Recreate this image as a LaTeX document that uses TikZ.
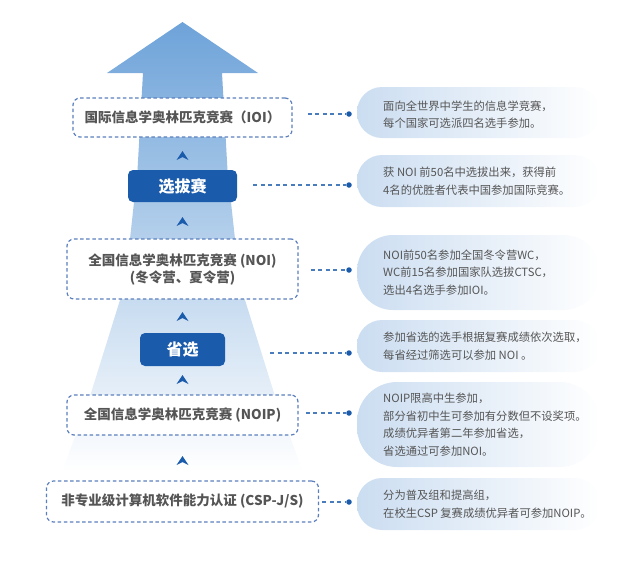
\documentclass[tikz,border=0pt]{standalone}
\usepackage{fontspec}
\newfontfamily\cjk{Noto Sans CJK SC}
\usetikzlibrary{positioning}

\definecolor{deepblue}{HTML}{1B5BAB}
\definecolor{dashblue}{HTML}{5B7FBD}
\definecolor{arrowblue}{HTML}{6EA3D9}
\definecolor{midblue}{HTML}{ADCAEA}
\definecolor{pillblue}{HTML}{CBDDF1}
\definecolor{pillmid}{HTML}{E1EBF7}
\definecolor{txtgray}{HTML}{555555}

\tikzstyle{stage} = [draw=dashblue, line width=1.2pt, dash pattern=on 3.5pt off 2.6pt, rounded corners=7pt, fill=white, text=txtgray, font=\cjk\bfseries\fontsize{13.5}{17}\selectfont, align=center, inner sep=0pt]
\tikzstyle{select} = [fill=deepblue, rounded corners=5pt, text=white, font=\cjk\bfseries\fontsize{16}{18}\selectfont, inner sep=0pt]
\tikzstyle{note} = [anchor=west, text=txtgray, font=\cjk\fontsize{11.3}{17.5}\selectfont, align=left, inner sep=0pt]
\tikzstyle{pill} = [left color=pillblue, middle color=pillmid, right color=white]
\tikzstyle{dot} = [circle, fill=deepblue, inner sep=0pt, minimum size=5.5pt]
\tikzstyle{conn} = [deepblue!80, line width=1.2pt, dash pattern=on 4pt off 3.5pt]

\begin{document}
\begin{tikzpicture}[x=1pt, y=-1pt]
	\useasboundingbox (0,0) rectangle (636,571);

	% big arrow behind the stages
	\shade[top color=arrowblue, middle color=midblue, bottom color=white]
		(182.5,22) -- (258,73) -- (222,73) -- (227.5,170) -- (235,239) -- (245,300)
		-- (274,393) -- (303,472) -- (62,472) -- (91,393) -- (120,300) -- (130,239)
		-- (137.5,170) -- (143,73) -- (107,73) -- cycle;

	% small up chevrons
	\foreach \y in {156,222,317,380,461}
		\fill[deepblue] (176.5,\y+4) -- (182.5,\y-5) -- (188.5,\y+4) -- (182.5,\y+1) -- cycle;

	% stages
	\node[stage, minimum width=219pt, minimum height=39pt] (ioi) at (182.5,117.5) {国际信息学奥林匹克竞赛（IOI）};
	\node[select, minimum width=109pt, minimum height=32pt] (xbs) at (182.5,186) {选拔赛};
	\node[stage, minimum width=231pt, minimum height=60pt] (noi) at (182.5,269) {全国信息学奥林匹克竞赛 (NOI)\\(冬令营、夏令营)};
	\node[select, minimum width=85pt, minimum height=33pt] (sx) at (182.5,349.5) {省选};
	\node[stage, minimum width=231pt, minimum height=40pt] (noip) at (182.5,415) {全国信息学奥林匹克竞赛 (NOIP)};
	\node[stage, minimum width=272pt, minimum height=41pt] (csp) at (182.5,501.5) {非专业级计算机软件能力认证 (CSP-J/S)};

	% pills
	\shade[pill, rounded corners=25pt] (357,87) rectangle (600,138);
	\shade[pill, rounded corners=25pt] (357,155) rectangle (600,207);
	\shade[pill, rounded corners=36pt] (357,235) rectangle (600,310);
	\shade[pill, rounded corners=25pt] (357,320) rectangle (600,372);
	\shade[pill, rounded corners=40pt] (357,382) rectangle (600,467);
	\shade[pill, rounded corners=25pt] (357,478) rectangle (600,530);

	\node[note] (t1) at (383,114.5) {面向全世界中学生的信息学竞赛，\\每个国家可选派四名选手参加。};
	\node[note] (t2) at (383,181) {获 NOI 前50名中选拔出来，获得前\\4名的优胜者代表中国参加国际竞赛。};
	\node[note] (t3) at (383,272.5) {NOI前50名参加全国冬令营WC，\\WC前15名参加国家队选拔CTSC，\\选出4名选手参加IOI。};
	\node[note] (t4) at (383,346) {参加省选的选手根据复赛成绩依次选取，\\每省经过筛选可以参加 NOI 。};
	\node[note] (t5) at (383,424.5) {NOIP限高中生参加，\\部分省初中生可参加有分数但不设奖项。\\成绩优异者第二年参加省选，\\省选通过可参加NOI。};
	\node[note] (t6) at (383,504) {分为普及组和提高组，\\在校生CSP 复赛成绩优异者可参加NOIP。};

	% dots and connectors
	\node[dot] (d1) at (349,114) {};
	\node[dot] (d2) at (349,185) {};
	\node[dot] (d3) at (349,270) {};
	\node[dot] (d4) at (349,353) {};
	\node[dot] (d5) at (349,413) {};
	\node[dot] (d6) at (349,502) {};

	\draw[conn, shorten <=15pt] (d1 -| ioi.east) -- (d1);
	\draw[conn, shorten <=16pt] (d2 -| xbs.east) -- (d2);
	\draw[conn, shorten <=12pt] (d3 -| noi.east) -- (d3);
	\draw[conn, shorten <=45pt] (d4 -| sx.east) -- (d4);
	\draw[conn, shorten <=7pt] (d5 -| noip.east) -- (d5);
	\draw[conn, shorten <=3pt] (d6 -| csp.east) -- (d6);
\end{tikzpicture}
\end{document}
